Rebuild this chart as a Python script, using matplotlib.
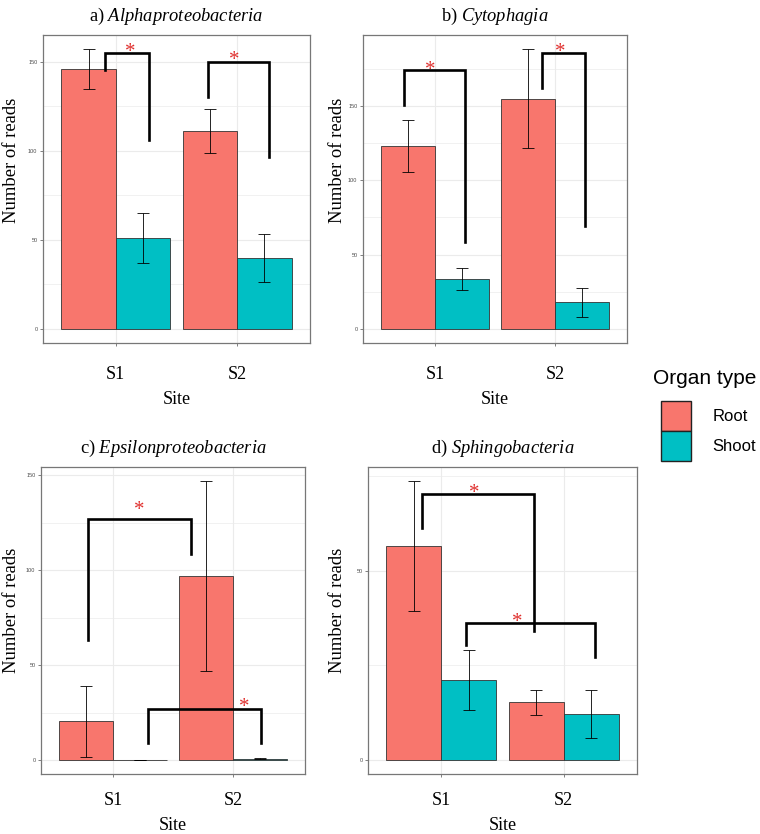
import matplotlib
matplotlib.use("Agg")
import matplotlib.pyplot as plt
import numpy as np
from matplotlib.patches import Patch

sites = ["S1", "S2"]
organs = ["Root", "Shoot"]
colors = ["#F8766D", "#00BFC4"]

titles = ["a)", "b)", "c)", "d)"]
taxa = ["Alphaproteobacteria", "Cytophagia", "Epsilonproteobacteria", "Sphingobacteria"]

alpha_root = [146, 111]
alpha_root_se = [11.3, 12.4]
alpha_shoot = [51, 40]
alpha_shoot_se = [14, 13.5]

cyto_root = [123, 155]
cyto_root_se = [17.6, 33.3]
cyto_shoot = [33.5, 18]
cyto_shoot_se = [7.4, 9.7]

epsilon_root = [20.5, 97]
epsilon_root_se = [18.7, 50]
epsilon_shoot = [0, 0.6]
epsilon_shoot_se = [0, 0.3]

sphingo_root = [56.5, 15.2]
sphingo_root_se = [17.2, 3.4]
sphingo_shoot = [21.2, 12.1]
sphingo_shoot_se = [7.9, 6.4]

# significance brackets: x_left, x_right, y_top, y_left_end, y_right_end, star_x, star_y
alpha_brackets = [(0.91, 1.27, 155, 145.5, 106, 1.12, 158.5),
                  (1.76, 2.26, 150, 130.5, 96.8, 1.975, 154)]
cyto_brackets = [(0.74, 1.25, 174.3, 150.7, 58.2, 0.96, 178),
                 (1.894, 2.25, 185.8, 162.2, 69.4, 2.04, 190)]
epsilon_brackets = [(0.79, 1.65, 126.7, 63.4, 108.5, 1.22, 134.8),
                    (1.29, 2.23, 27, 9.1, 9.1, 2.09, 30.6)]
sphingo_brackets = [(0.84, 1.76, 70.3, 61.3, 34.1, 1.27, 72),
                    (1.2, 2.26, 36.3, 30.3, 27.2, 1.62, 37.8)]

panels = [
    (alpha_root, alpha_root_se, alpha_shoot, alpha_shoot_se, alpha_brackets, [0, 50, 100, 150]),
    (cyto_root, cyto_root_se, cyto_shoot, cyto_shoot_se, cyto_brackets, [0, 50, 100, 150]),
    (epsilon_root, epsilon_root_se, epsilon_shoot, epsilon_shoot_se, epsilon_brackets, [0, 50, 100, 150]),
    (sphingo_root, sphingo_root_se, sphingo_shoot, sphingo_shoot_se, sphingo_brackets, [0, 50]),
]

W, H = 760, 834
# axes boxes in pixels: left, top, right, bottom
boxes = [(43, 35, 310, 343), (363, 35, 627, 343),
         (41, 467, 305, 774), (368, 467, 637, 774)]
ylabel_pos = [(-0.117, 0.592), (-0.096, 0.592), (-0.11, 0.534), (-0.115, 0.534)]
xtick_pad = [14, 14, 10.5, 10.5]

plt.rcParams["font.family"] = "Liberation Serif"
plt.rcParams["mathtext.fontset"] = "custom"
plt.rcParams["mathtext.rm"] = "Liberation Serif"
plt.rcParams["mathtext.it"] = "Liberation Serif:italic"


def main():
    fig = plt.figure(figsize=(W / 100, H / 100), dpi=100)
    x = np.arange(1, len(sites) + 1)
    w = 0.45

    for i, (root, root_se, shoot, shoot_se, brackets, yticks) in enumerate(panels):
        l, t, r, b = boxes[i]
        ax = fig.add_axes([l / W, 1 - b / H, (r - l) / W, (b - t) / H])
        ax.set_axisbelow(True)

        ax.bar(x - w / 2, root, w, color=colors[0], edgecolor="#333333", linewidth=0.6, zorder=2)
        ax.bar(x + w / 2, shoot, w, color=colors[1], edgecolor="#333333", linewidth=0.6, zorder=2)
        ax.errorbar(x - w / 2, root, yerr=root_se, fmt="none", ecolor="black",
                    elinewidth=0.6, capsize=4, capthick=0.6, zorder=3)
        ax.errorbar(x + w / 2, shoot, yerr=shoot_se, fmt="none", ecolor="black",
                    elinewidth=0.6, capsize=4, capthick=0.6, zorder=3)

        top = max(max(np.add(root, root_se)), max(np.add(shoot, shoot_se)))
        ax.set_ylim(-0.05 * top, top * 1.05)
        ax.set_xlim(0.4, 2.6)

        for xl, xr, yt, yl, yr, sx, sy in brackets:
            ax.plot([xl, xl, xr, xr], [yl, yt, yt, yr], color="black", lw=1.9,
                    solid_joinstyle="miter", zorder=4)
            ax.annotate("*", (sx, sy), xytext=(0, -7.5), textcoords="offset points",
                        ha="center", va="baseline", color="#e0302e", fontsize=15, zorder=5)

        ax.set_yticks(yticks)
        ax.set_yticks([v + 25 for v in yticks if v + 25 < top * 1.05], minor=True)
        ax.set_xticks(x)
        ax.set_xticklabels(sites, fontsize=13)
        for lab in ax.get_yticklabels():
            lab.set_fontfamily("Liberation Sans")
        ax.tick_params(axis="y", which="major", labelsize=4, colors="#4d4d4d",
                       length=2.5, width=0.5, pad=1.5)
        ax.tick_params(axis="y", which="minor", length=0)
        ax.tick_params(axis="x", length=2.5, width=0.5, color="#4d4d4d",
                       pad=xtick_pad[i], labelcolor="black")
        ax.grid(which="major", color="#ebebeb", lw=0.8)
        ax.grid(which="minor", axis="y", color="#ebebeb", lw=0.5)
        for s in ax.spines.values():
            s.set_color("#777777")
            s.set_linewidth(0.9)

        ax.set_xlabel("Site", fontsize=13, labelpad=6)
        ax.set_ylabel("Number of reads", fontsize=13.4, va="center")
        ax.yaxis.set_label_coords(*ylabel_pos[i])
        ax.set_title(titles[i] + " $\\mathit{" + taxa[i] + "}$", fontsize=13.3, pad=10)

    fig.text(653 / W, 1 - 378 / H, "Organ type", family="Liberation Sans", fontsize=15,
             ha="left", va="center")
    handles = [Patch(facecolor=c, edgecolor="#222222", linewidth=1.0) for c in colors]
    fig.legend(handles, organs, loc="upper left",
               bbox_to_anchor=(661 / W, 1 - 401 / H), frameon=False,
               prop={"family": "Liberation Sans", "size": 12},
               handlelength=1.8, handleheight=2.4, labelspacing=0,
               handletextpad=1.3, borderpad=0, borderaxespad=0)

    fig.savefig("out.png", dpi=100)
    plt.close(fig)


if __name__ == "__main__":
    main()
